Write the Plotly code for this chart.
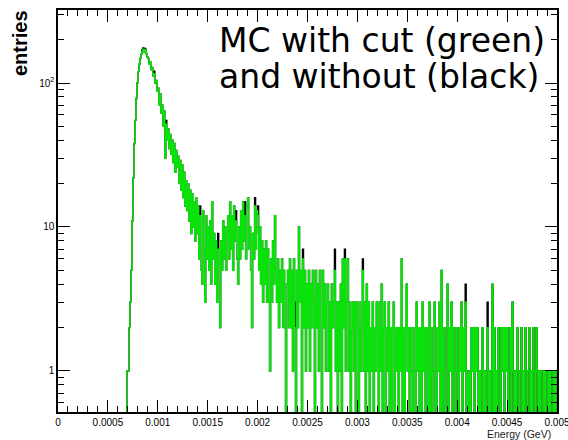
import plotly.graph_objects as go

# ---------------- data ----------------
x_min = 0.0
x_max = 0.005
n_bins = 500

# counts with cut (green), bins 0..499 (bin width 1e-5 GeV)
counts_with_cut = [0] * 69 + [
    1,
    1, 2, 3, 5, 11, 22, 38, 55, 78, 100,               # 70-79
    120, 135, 148, 158, 166, 172, 165, 171, 160, 152,  # 80-89
    148, 135, 140, 124, 128, 112, 116, 100, 104, 88,   # 90-99
    92, 70, 84, 62, 70, 50, 64, 30, 52, 40,            # 100-109
    48, 35, 44, 32, 40, 28, 38, 24, 34, 26,            # 110-119
    31, 20, 29, 18, 27, 16, 24, 14, 21, 13,            # 120-129
    20, 11, 18, 9, 17, 10, 15, 8, 16, 9,               # 130-139
    14, 6, 12, 5, 4, 13, 7, 3, 12, 6,                  # 140-149
    10, 5, 11, 4, 15, 6, 9, 4, 8, 3,                   # 150-159
    7, 4, 2, 8, 5, 11, 6, 10, 5, 9,                    # 160-169
    12, 6, 15, 7, 12, 5, 14, 8, 11, 6,                 # 170-179
    4, 10, 6, 13, 7, 15, 8, 12, 6, 14,                 # 180-189
    16, 7, 10, 5, 2, 9, 6, 14, 7, 13,                  # 190-199
    12, 5, 10, 4, 8, 3, 7, 4, 8, 3,                    # 200-209
    7, 3, 1, 6, 3, 8, 4, 12, 5, 3,                     # 210-219
    6, 2, 5, 3, 6, 2, 5, 2, 0, 4,                      # 220-229
    5, 2, 6, 2, 5, 1, 6, 2, 0, 5,                      # 230-239
    2, 10, 3, 5, 0, 6, 2, 5, 1, 4,                     # 240-249
    2, 5, 1, 4, 2, 5, 3, 0, 5, 2,                      # 250-259
    4, 1, 5, 2, 0, 5, 2, 4, 1, 3,                      # 260-269
    4, 1, 3, 0, 4, 2, 3, 5, 1, 3,                      # 270-279
    0, 3, 1, 4, 0, 6, 2, 6, 1, 3,                      # 280-289
    6, 1, 3, 0, 2, 3, 1, 3, 0, 3,                      # 290-299
    2, 0, 3, 1, 2, 5, 1, 3, 0, 4,                      # 300-309
    1, 3, 0, 2, 1, 3, 0, 2, 1, 3,                      # 310-319
    2, 0, 3, 1, 4, 0, 2, 3, 0, 2,                      # 320-329
    1, 3, 0, 2, 0, 2, 3, 0, 2, 1,                      # 330-339
    2, 0, 2, 1, 6, 0, 2, 0, 2, 4,                      # 340-349
    1, 2, 0, 2, 1, 0, 2, 1, 0, 3,                      # 350-359
    1, 2, 0, 2, 0, 3, 1, 2, 0, 2,                      # 360-369
    1, 0, 3, 0, 2, 1, 0, 3, 1, 0,                      # 370-379
    2, 1, 3, 0, 5, 0, 2, 1, 0, 2,                      # 380-389
    4, 0, 2, 1, 3, 0, 2, 1, 0, 2,                      # 390-399
    1, 0, 2, 1, 3, 0, 2, 1, 3, 0,                      # 400-409
    1, 0, 1, 0, 2, 1, 2, 0, 2, 1,                      # 410-419
    2, 0, 1, 0, 1, 2, 0, 1, 0, 1,                      # 420-429
    2, 0, 1, 0, 1, 4, 0, 2, 0, 1,                      # 430-439
    0, 2, 1, 0, 2, 1, 2, 0, 2, 1,                      # 440-449
    2, 0, 1, 2, 0, 3, 1, 0, 1, 0,                      # 450-459
    2, 1, 0, 1, 2, 0, 1, 0, 2, 1,                      # 460-469
    0, 1, 2, 0, 1, 0, 2, 1, 0, 2,                      # 470-479
    1, 0, 1, 0, 1, 1, 0, 1, 0, 1,                      # 480-489
    1, 0, 1, 0, 1, 1, 0, 1, 0, 1,                      # 490-499
]

# bins where the histogram without cut (black) is higher: bin -> extra entries
extra_without_cut = {
    84: 4, 85: 3, 87: 3, 96: 5, 101: 3, 108: 3, 121: 2, 142: 2,
    160: 2, 178: 2, 187: 3, 197: 2, 198: 2, 200: 2, 201: 2,
    225: 2, 237: 1, 245: 1, 277: 2, 287: 1, 305: 1, 343: 1,
    408: 1, 430: 1,
}

counts_without_cut = list(counts_with_cut)
for b, n in extra_without_cut.items():
    counts_without_cut[b] += n

x_tick_vals = [0, 0.0005, 0.001, 0.0015, 0.002, 0.0025, 0.003, 0.0035, 0.004, 0.0045, 0.005]
x_tick_text = ["0", "0.0005", "0.001", "0.0015", "0.002", "0.0025", "0.003", "0.0035", "0.004", "0.0045", "0.005"]
y_tick_vals = [1, 10, 100]
y_tick_text = ["1", "10", "10<sup>2</sup>"]

# ---------------- figure ----------------
bw = (x_max - x_min) / n_bins
edges = [x_min + i * bw for i in range(n_bins + 1)]
FLOOR = 0.05  # empty bins are drawn below the visible range (log axis)


def step(counts):
    ys = [c if c > 0 else FLOOR for c in counts]
    return edges, ys + [ys[-1]]


fig = go.Figure()
xb, yb = step(counts_without_cut)
fig.add_trace(go.Scatter(x=xb, y=yb, mode="lines", line=dict(color="black", width=1.4, shape="hv"),
                         hoverinfo="skip", showlegend=False))
xg, yg = step(counts_with_cut)
fig.add_trace(go.Scatter(x=xg, y=yg, mode="lines", line=dict(color="rgb(10,225,10)", width=1.4, shape="hv"),
                         hoverinfo="skip", showlegend=False))

minor_x = [i * 0.0001 for i in range(51)]
minor_y = [m * 10 ** d for d in range(-1, 3) for m in range(2, 10)]

fig.update_layout(
    width=568, height=440,
    margin=dict(l=58, r=11, t=10, b=28, autoexpand=False),
    paper_bgcolor="white", plot_bgcolor="white",
    font=dict(family="Liberation Sans, Arial, sans-serif", size=10, color="black"),
    xaxis=dict(
        range=[x_min, x_max * 1.000002], tickvals=x_tick_vals, ticktext=x_tick_text,
        ticks="inside", ticklen=12, tickwidth=1, tickcolor="black",
        minor=dict(tickvals=minor_x, ticks="inside", ticklen=6, tickwidth=1, tickcolor="black"),
        showline=True, linecolor="black", linewidth=1.5, mirror="ticks",
        showgrid=False, zeroline=False, tickfont=dict(size=10),
        ticklabeloverflow="allow", automargin=False,
    ),
    yaxis=dict(
        type="log", range=[-0.285, 2.507], tickvals=y_tick_vals, ticktext=y_tick_text,
        ticks="inside", ticklen=12, tickwidth=1, tickcolor="black",
        minor=dict(tickvals=minor_y, ticks="inside", ticklen=6, tickwidth=1, tickcolor="black"),
        showline=True, linecolor="black", linewidth=1.5, mirror="ticks",
        showgrid=False, zeroline=False, tickfont=dict(size=10), automargin=False,
    ),
    annotations=[
        dict(text="<b>entries</b>", xref="paper", yref="paper", x=-0.076, y=1.005,
             xanchor="center", yanchor="top", textangle=-90, showarrow=False,
             font=dict(family="Liberation Sans, Arial, sans-serif", size=20, color="black")),
        dict(text="Energy (GeV)", xref="paper", yref="paper", x=0.992, y=(412 - 434) / 402,
             xanchor="right", yanchor="middle", showarrow=False,
             font=dict(family="Liberation Sans, Arial, sans-serif", size=10.5, color="#222")),
        dict(text="MC with cut (green)", xref="paper", yref="paper", x=0.318, y=(412 - 40) / 402,
             xanchor="left", yanchor="middle", showarrow=False,
             font=dict(family="DejaVu Sans, sans-serif", size=33, color="black")),
        dict(text="and without (black)", xref="paper", yref="paper", x=0.318, y=(412 - 76) / 402,
             xanchor="left", yanchor="middle", showarrow=False,
             font=dict(family="DejaVu Sans, sans-serif", size=33, color="black")),
    ],
)

fig.write_html("out.html")
